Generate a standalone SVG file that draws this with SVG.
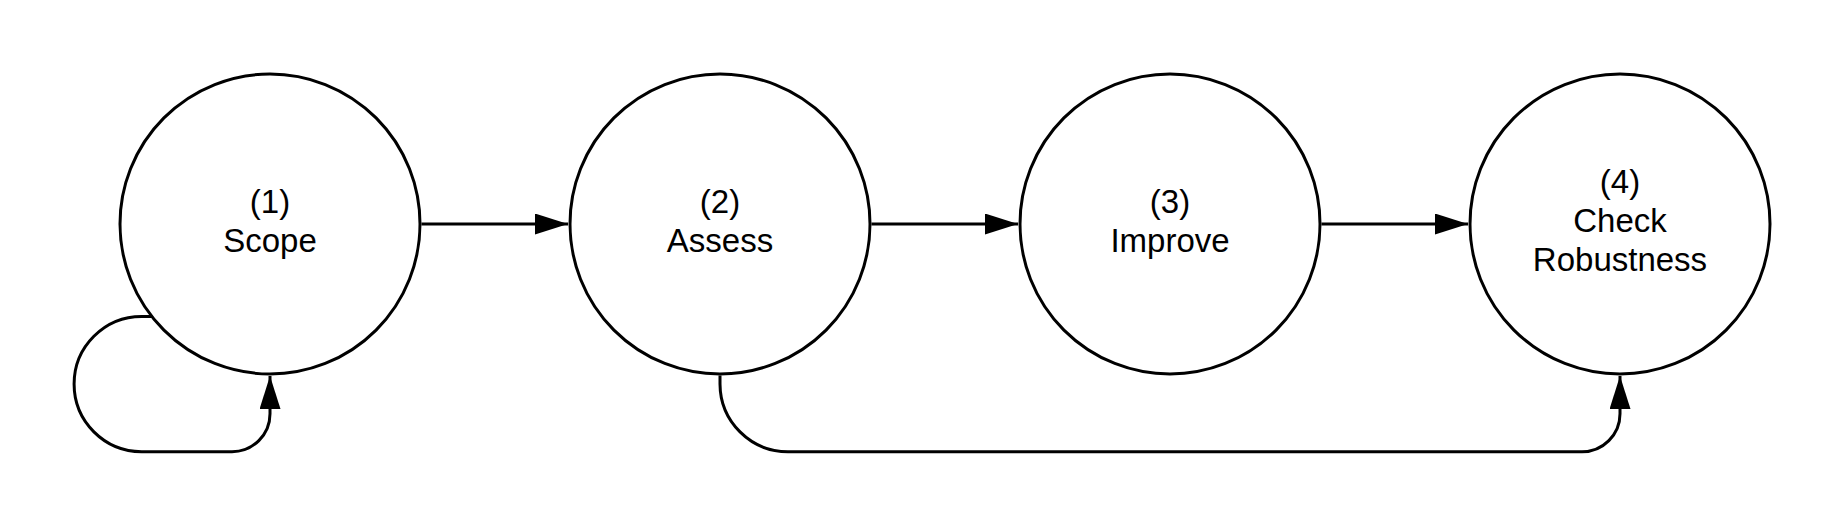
<svg xmlns="http://www.w3.org/2000/svg" width="1845" height="527" viewBox="0 0 1845 527">
<style>
.node{fill:#fff;stroke:#000;stroke-width:3}
.lbl{font-family:"Liberation Sans",Arial,sans-serif;font-size:33px;fill:#000;text-anchor:middle}
.conn{fill:none;stroke:#000;stroke-width:3}
</style>
<defs>
<marker id="arr" markerUnits="userSpaceOnUse" markerWidth="34" markerHeight="22" refX="33" refY="10.5" orient="auto">
<path d="M0,0 L33,10.5 L0,21 Z" fill="#000"/>
</marker>
</defs>
<rect width="1845" height="527" fill="#fff"/>
<g id="connectors">
<path class="conn" d="M421.5,224 H568" marker-end="url(#arr)"/>
<path class="conn" d="M871.5,224 H1018" marker-end="url(#arr)"/>
<path class="conn" d="M1321.5,224 H1468" marker-end="url(#arr)"/>
<path class="conn" d="M152.3,316.5 H141.7 A67.6,67.6 0 0 0 141.7,451.7 H232 A38,38 0 0 0 270,413.7 V376" marker-end="url(#arr)"/>
<path class="conn" d="M720,375.5 V384 A68,68 0 0 0 788,451.7 H1582 A38,38 0 0 0 1620,413.7 V376" marker-end="url(#arr)"/>
</g>
<g id="node1">
<circle class="node" cx="270" cy="224" r="150"/>
<text class="lbl" x="270" y="213">(1)</text>
<text class="lbl" x="270" y="252">Scope</text>
</g>
<g id="node2">
<circle class="node" cx="720" cy="224" r="150"/>
<text class="lbl" x="720" y="213">(2)</text>
<text class="lbl" x="720" y="252">Assess</text>
</g>
<g id="node3">
<circle class="node" cx="1170" cy="224" r="150"/>
<text class="lbl" x="1170" y="213">(3)</text>
<text class="lbl" x="1170" y="252">Improve</text>
</g>
<g id="node4">
<circle class="node" cx="1620" cy="224" r="150"/>
<text class="lbl" x="1620" y="193">(4)</text>
<text class="lbl" x="1620" y="232">Check</text>
<text class="lbl" x="1620" y="271">Robustness</text>
</g>
</svg>
